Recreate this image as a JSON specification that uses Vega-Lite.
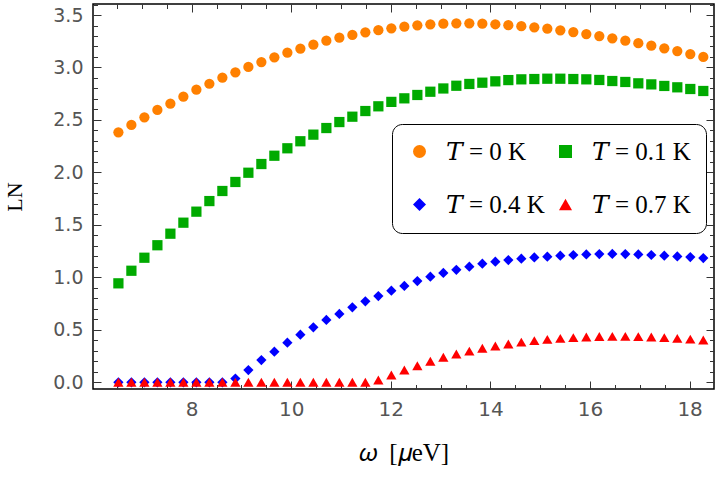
{
  "$schema": "https://vega.github.io/schema/vega-lite/v6.json",
  "width": 621,
  "height": 385,
  "autosize": {"type": "none"},
  "padding": {"left": 93, "top": 4, "right": 6, "bottom": 89},
  "background": "white",
  "view": {"stroke": "black", "strokeWidth": 1.5},
  "data": {
    "values": [
      {"x": 6.53, "y": 2.382, "T": "0"}, {"x": 6.791, "y": 2.452, "T": "0"}, {"x": 7.052, "y": 2.525, "T": "0"}, {"x": 7.313, "y": 2.595, "T": "0"},
      {"x": 7.574, "y": 2.655, "T": "0"}, {"x": 7.835, "y": 2.722, "T": "0"}, {"x": 8.096, "y": 2.788, "T": "0"}, {"x": 8.357, "y": 2.845, "T": "0"},
      {"x": 8.618, "y": 2.903, "T": "0"}, {"x": 8.879, "y": 2.954, "T": "0"}, {"x": 9.14, "y": 3.005, "T": "0"}, {"x": 9.401, "y": 3.052, "T": "0"},
      {"x": 9.662, "y": 3.097, "T": "0"}, {"x": 9.923, "y": 3.141, "T": "0"}, {"x": 10.184, "y": 3.179, "T": "0"}, {"x": 10.445, "y": 3.217, "T": "0"},
      {"x": 10.706, "y": 3.255, "T": "0"}, {"x": 10.967, "y": 3.284, "T": "0"}, {"x": 11.228, "y": 3.31, "T": "0"}, {"x": 11.489, "y": 3.335, "T": "0"},
      {"x": 11.75, "y": 3.355, "T": "0"}, {"x": 12.011, "y": 3.373, "T": "0"}, {"x": 12.272, "y": 3.389, "T": "0"}, {"x": 12.533, "y": 3.402, "T": "0"},
      {"x": 12.794, "y": 3.411, "T": "0"}, {"x": 13.055, "y": 3.417, "T": "0"}, {"x": 13.316, "y": 3.421, "T": "0"}, {"x": 13.577, "y": 3.421, "T": "0"},
      {"x": 13.838, "y": 3.417, "T": "0"}, {"x": 14.099, "y": 3.412, "T": "0"}, {"x": 14.36, "y": 3.403, "T": "0"}, {"x": 14.621, "y": 3.394, "T": "0"},
      {"x": 14.882, "y": 3.383, "T": "0"}, {"x": 15.143, "y": 3.37, "T": "0"}, {"x": 15.404, "y": 3.354, "T": "0"}, {"x": 15.665, "y": 3.338, "T": "0"},
      {"x": 15.926, "y": 3.319, "T": "0"}, {"x": 16.187, "y": 3.3, "T": "0"}, {"x": 16.448, "y": 3.278, "T": "0"}, {"x": 16.709, "y": 3.255, "T": "0"},
      {"x": 16.97, "y": 3.232, "T": "0"}, {"x": 17.231, "y": 3.208, "T": "0"}, {"x": 17.492, "y": 3.183, "T": "0"}, {"x": 17.753, "y": 3.156, "T": "0"},
      {"x": 18.014, "y": 3.128, "T": "0"}, {"x": 18.275, "y": 3.1, "T": "0"},

      {"x": 6.53, "y": 0.943, "T": "0.1"}, {"x": 6.791, "y": 1.063, "T": "0.1"}, {"x": 7.052, "y": 1.187, "T": "0.1"}, {"x": 7.313, "y": 1.306, "T": "0.1"},
      {"x": 7.574, "y": 1.416, "T": "0.1"}, {"x": 7.835, "y": 1.521, "T": "0.1"}, {"x": 8.096, "y": 1.626, "T": "0.1"}, {"x": 8.357, "y": 1.727, "T": "0.1"},
      {"x": 8.618, "y": 1.823, "T": "0.1"}, {"x": 8.879, "y": 1.909, "T": "0.1"}, {"x": 9.14, "y": 1.997, "T": "0.1"}, {"x": 9.401, "y": 2.08, "T": "0.1"},
      {"x": 9.662, "y": 2.159, "T": "0.1"}, {"x": 9.923, "y": 2.23, "T": "0.1"}, {"x": 10.184, "y": 2.297, "T": "0.1"}, {"x": 10.445, "y": 2.36, "T": "0.1"},
      {"x": 10.706, "y": 2.423, "T": "0.1"}, {"x": 10.967, "y": 2.48, "T": "0.1"}, {"x": 11.228, "y": 2.531, "T": "0.1"}, {"x": 11.489, "y": 2.585, "T": "0.1"},
      {"x": 11.75, "y": 2.63, "T": "0.1"}, {"x": 12.011, "y": 2.672, "T": "0.1"}, {"x": 12.272, "y": 2.706, "T": "0.1"}, {"x": 12.533, "y": 2.738, "T": "0.1"},
      {"x": 12.794, "y": 2.769, "T": "0.1"}, {"x": 13.055, "y": 2.8, "T": "0.1"}, {"x": 13.316, "y": 2.826, "T": "0.1"}, {"x": 13.577, "y": 2.843, "T": "0.1"},
      {"x": 13.838, "y": 2.855, "T": "0.1"}, {"x": 14.099, "y": 2.868, "T": "0.1"}, {"x": 14.36, "y": 2.88, "T": "0.1"}, {"x": 14.621, "y": 2.887, "T": "0.1"},
      {"x": 14.882, "y": 2.89, "T": "0.1"}, {"x": 15.143, "y": 2.893, "T": "0.1"}, {"x": 15.404, "y": 2.893, "T": "0.1"}, {"x": 15.665, "y": 2.89, "T": "0.1"},
      {"x": 15.926, "y": 2.887, "T": "0.1"}, {"x": 16.187, "y": 2.881, "T": "0.1"}, {"x": 16.448, "y": 2.871, "T": "0.1"}, {"x": 16.709, "y": 2.862, "T": "0.1"},
      {"x": 16.97, "y": 2.849, "T": "0.1"}, {"x": 17.231, "y": 2.839, "T": "0.1"}, {"x": 17.492, "y": 2.824, "T": "0.1"}, {"x": 17.753, "y": 2.811, "T": "0.1"},
      {"x": 18.014, "y": 2.795, "T": "0.1"}, {"x": 18.275, "y": 2.776, "T": "0.1"},

      {"x": 6.53, "y": 0, "T": "0.4"}, {"x": 6.791, "y": 0, "T": "0.4"}, {"x": 7.052, "y": 0, "T": "0.4"}, {"x": 7.313, "y": 0, "T": "0.4"},
      {"x": 7.574, "y": 0, "T": "0.4"}, {"x": 7.835, "y": 0, "T": "0.4"}, {"x": 8.096, "y": 0, "T": "0.4"}, {"x": 8.357, "y": 0, "T": "0.4"},
      {"x": 8.618, "y": 0, "T": "0.4"}, {"x": 8.879, "y": 0.035, "T": "0.4"}, {"x": 9.14, "y": 0.117, "T": "0.4"}, {"x": 9.401, "y": 0.212, "T": "0.4"},
      {"x": 9.662, "y": 0.292, "T": "0.4"}, {"x": 9.923, "y": 0.377, "T": "0.4"}, {"x": 10.184, "y": 0.454, "T": "0.4"}, {"x": 10.445, "y": 0.524, "T": "0.4"},
      {"x": 10.706, "y": 0.594, "T": "0.4"}, {"x": 10.967, "y": 0.651, "T": "0.4"}, {"x": 11.228, "y": 0.715, "T": "0.4"}, {"x": 11.489, "y": 0.772, "T": "0.4"},
      {"x": 11.75, "y": 0.822, "T": "0.4"}, {"x": 12.011, "y": 0.873, "T": "0.4"}, {"x": 12.272, "y": 0.918, "T": "0.4"}, {"x": 12.533, "y": 0.965, "T": "0.4"},
      {"x": 12.794, "y": 1.006, "T": "0.4"}, {"x": 13.055, "y": 1.042, "T": "0.4"}, {"x": 13.316, "y": 1.072, "T": "0.4"}, {"x": 13.577, "y": 1.102, "T": "0.4"},
      {"x": 13.838, "y": 1.13, "T": "0.4"}, {"x": 14.099, "y": 1.149, "T": "0.4"}, {"x": 14.36, "y": 1.165, "T": "0.4"}, {"x": 14.621, "y": 1.178, "T": "0.4"},
      {"x": 14.882, "y": 1.19, "T": "0.4"}, {"x": 15.143, "y": 1.197, "T": "0.4"}, {"x": 15.404, "y": 1.206, "T": "0.4"}, {"x": 15.665, "y": 1.213, "T": "0.4"},
      {"x": 15.926, "y": 1.218, "T": "0.4"}, {"x": 16.187, "y": 1.222, "T": "0.4"}, {"x": 16.448, "y": 1.223, "T": "0.4"}, {"x": 16.709, "y": 1.222, "T": "0.4"},
      {"x": 16.97, "y": 1.218, "T": "0.4"}, {"x": 17.231, "y": 1.213, "T": "0.4"}, {"x": 17.492, "y": 1.206, "T": "0.4"}, {"x": 17.753, "y": 1.199, "T": "0.4"},
      {"x": 18.014, "y": 1.193, "T": "0.4"}, {"x": 18.275, "y": 1.184, "T": "0.4"},

      {"x": 6.53, "y": 0, "T": "0.7"}, {"x": 6.791, "y": 0, "T": "0.7"}, {"x": 7.052, "y": 0, "T": "0.7"}, {"x": 7.313, "y": 0, "T": "0.7"},
      {"x": 7.574, "y": 0, "T": "0.7"}, {"x": 7.835, "y": 0, "T": "0.7"}, {"x": 8.096, "y": 0, "T": "0.7"}, {"x": 8.357, "y": 0, "T": "0.7"},
      {"x": 8.618, "y": 0, "T": "0.7"}, {"x": 8.879, "y": 0, "T": "0.7"}, {"x": 9.14, "y": 0, "T": "0.7"}, {"x": 9.401, "y": 0, "T": "0.7"},
      {"x": 9.662, "y": 0, "T": "0.7"}, {"x": 9.923, "y": 0, "T": "0.7"}, {"x": 10.184, "y": 0, "T": "0.7"}, {"x": 10.445, "y": 0, "T": "0.7"},
      {"x": 10.706, "y": 0, "T": "0.7"}, {"x": 10.967, "y": 0, "T": "0.7"}, {"x": 11.228, "y": 0, "T": "0.7"}, {"x": 11.489, "y": 0, "T": "0.7"},
      {"x": 11.75, "y": 0.022, "T": "0.7"}, {"x": 12.011, "y": 0.07, "T": "0.7"}, {"x": 12.272, "y": 0.117, "T": "0.7"}, {"x": 12.533, "y": 0.158, "T": "0.7"},
      {"x": 12.794, "y": 0.2, "T": "0.7"}, {"x": 13.055, "y": 0.239, "T": "0.7"}, {"x": 13.316, "y": 0.27, "T": "0.7"}, {"x": 13.577, "y": 0.297, "T": "0.7"},
      {"x": 13.838, "y": 0.324, "T": "0.7"}, {"x": 14.099, "y": 0.346, "T": "0.7"}, {"x": 14.36, "y": 0.365, "T": "0.7"}, {"x": 14.621, "y": 0.383, "T": "0.7"},
      {"x": 14.882, "y": 0.397, "T": "0.7"}, {"x": 15.143, "y": 0.409, "T": "0.7"}, {"x": 15.404, "y": 0.419, "T": "0.7"}, {"x": 15.665, "y": 0.426, "T": "0.7"},
      {"x": 15.926, "y": 0.432, "T": "0.7"}, {"x": 16.187, "y": 0.436, "T": "0.7"}, {"x": 16.448, "y": 0.438, "T": "0.7"}, {"x": 16.709, "y": 0.438, "T": "0.7"},
      {"x": 16.97, "y": 0.435, "T": "0.7"}, {"x": 17.231, "y": 0.432, "T": "0.7"}, {"x": 17.492, "y": 0.426, "T": "0.7"}, {"x": 17.753, "y": 0.419, "T": "0.7"},
      {"x": 18.014, "y": 0.411, "T": "0.7"}, {"x": 18.275, "y": 0.403, "T": "0.7"}
    ]
  },
  "resolve": {"axis": {"x": "independent", "y": "independent"}},
  "layer": [
    {
      "mark": {"type": "point", "opacity": 0},
      "encoding": {
        "x": {
          "field": "x", "type": "quantitative",
          "scale": {"domain": [6.02, 18.49], "nice": false, "zero": false},
          "axis": {"orient": "bottom", "values": [8, 10, 12, 14, 16, 18], "labels": false, "domain": false, "grid": false, "tickSize": -8, "tickColor": "#333333", "title": null}
        },
        "y": {
          "field": "y", "type": "quantitative",
          "scale": {"domain": [-0.064, 3.605], "nice": false, "zero": false},
          "axis": {"orient": "left", "values": [0, 0.5, 1, 1.5, 2, 2.5, 3, 3.5], "labels": false, "domain": false, "grid": false, "tickSize": -8, "tickColor": "#333333", "title": null}
        }
      }
    },
    {
      "mark": {"type": "point", "opacity": 0},
      "encoding": {
        "x": {
          "field": "x", "type": "quantitative",
          "scale": {"domain": [6.02, 18.49], "nice": false, "zero": false},
          "axis": {"orient": "bottom", "values": [6.5, 7, 7.5, 8.5, 9, 9.5, 10.5, 11, 11.5, 12.5, 13, 13.5, 14.5, 15, 15.5, 16.5, 17, 17.5], "labels": false, "domain": false, "grid": false, "tickSize": -4.5, "tickColor": "#333333", "title": null}
        },
        "y": {
          "field": "y", "type": "quantitative",
          "scale": {"domain": [-0.064, 3.605], "nice": false, "zero": false},
          "axis": {"orient": "left", "values": [0.1, 0.2, 0.3, 0.4, 0.6, 0.7, 0.8, 0.9, 1.1, 1.2, 1.3, 1.4, 1.6, 1.7, 1.8, 1.9, 2.1, 2.2, 2.3, 2.4, 2.6, 2.7, 2.8, 2.9, 3.1, 3.2, 3.3, 3.4, 3.6], "labels": false, "domain": false, "grid": false, "tickSize": -4.5, "tickColor": "#333333", "title": null}
        }
      }
    },
    {
      "mark": {"type": "point", "opacity": 0},
      "encoding": {
        "x": {
          "field": "x", "type": "quantitative",
          "scale": {"domain": [6.02, 18.49], "nice": false, "zero": false},
          "axis": {"orient": "top", "values": [8, 10, 12, 14, 16, 18], "labels": false, "domain": false, "grid": false, "tickSize": -8, "tickColor": "#333333", "title": null}
        },
        "y": {
          "field": "y", "type": "quantitative",
          "scale": {"domain": [-0.064, 3.605], "nice": false, "zero": false},
          "axis": {"orient": "right", "values": [0, 0.5, 1, 1.5, 2, 2.5, 3, 3.5], "labels": false, "domain": false, "grid": false, "tickSize": -8, "tickColor": "#333333", "title": null}
        }
      }
    },
    {
      "mark": {"type": "point", "opacity": 0},
      "encoding": {
        "x": {
          "field": "x", "type": "quantitative",
          "scale": {"domain": [6.02, 18.49], "nice": false, "zero": false},
          "axis": {"orient": "top", "values": [6.5, 7, 7.5, 8.5, 9, 9.5, 10.5, 11, 11.5, 12.5, 13, 13.5, 14.5, 15, 15.5, 16.5, 17, 17.5], "labels": false, "domain": false, "grid": false, "tickSize": -4.5, "tickColor": "#333333", "title": null}
        },
        "y": {
          "field": "y", "type": "quantitative",
          "scale": {"domain": [-0.064, 3.605], "nice": false, "zero": false},
          "axis": {"orient": "right", "values": [0.1, 0.2, 0.3, 0.4, 0.6, 0.7, 0.8, 0.9, 1.1, 1.2, 1.3, 1.4, 1.6, 1.7, 1.8, 1.9, 2.1, 2.2, 2.3, 2.4, 2.6, 2.7, 2.8, 2.9, 3.1, 3.2, 3.3, 3.4, 3.6], "labels": false, "domain": false, "grid": false, "tickSize": -4.5, "tickColor": "#333333", "title": null}
        }
      }
    },
    {
      "mark": {"type": "point", "filled": true, "size": 105, "opacity": 1, "strokeWidth": 0},
      "encoding": {
        "x": {
          "field": "x", "type": "quantitative",
          "scale": {"domain": [6.02, 18.49], "nice": false, "zero": false},
          "axis": {
            "orient": "bottom", "values": [8, 10, 12, 14, 16, 18], "ticks": false, "domain": false, "grid": false,
            "labelFont": "DejaVu Sans", "labelFontSize": 20, "labelColor": "#555555", "labelPadding": 10,
            "title": "𝜔\u2002[𝜇eV]", "titleFont": "Liberation Serif, DejaVu Serif", "titleFontSize": 25, "titleFontWeight": "normal", "titleColor": "black", "titlePadding": 21
          }
        },
        "y": {
          "field": "y", "type": "quantitative",
          "scale": {"domain": [-0.064, 3.605], "nice": false, "zero": false},
          "axis": {
            "orient": "left", "values": [0, 0.5, 1, 1.5, 2, 2.5, 3, 3.5], "format": ".1f", "ticks": false, "domain": false, "grid": false,
            "labelFont": "DejaVu Sans", "labelFontSize": 19, "labelColor": "#555555", "labelPadding": 10,
            "title": "LN", "titleFont": "Liberation Serif", "titleFontSize": 22, "titleFontWeight": "normal", "titleColor": "black", "titlePadding": 26
          }
        },
        "color": {
          "field": "T", "type": "nominal",
          "scale": {"domain": ["0", "0.1", "0.4", "0.7"], "range": ["#ff8000", "#00aa00", "#0000ff", "#ff0000"]},
          "legend": {
            "orient": "none", "legendX": 299, "legendY": 120, "columns": 2, "gridAlign": "none", "direction": "horizontal",
            "title": null, "labelExpr": "'𝑇 = ' + datum.label + ' K'",
            "labelFont": "Liberation Serif, DejaVu Serif", "labelFontSize": 25, "labelColor": "black", "labelOffset": 14,
            "symbolSize": 169, "symbolStrokeWidth": 0, "columnPadding": 8, "rowPadding": 27, "padding": 15,
            "fillColor": "white", "strokeColor": "black", "cornerRadius": 10
          }
        },
        "shape": {
          "field": "T", "type": "nominal",
          "scale": {"domain": ["0", "0.1", "0.4", "0.7"], "range": ["circle", "square", "diamond", "triangle-up"]}
        }
      }
    }
  ]
}
